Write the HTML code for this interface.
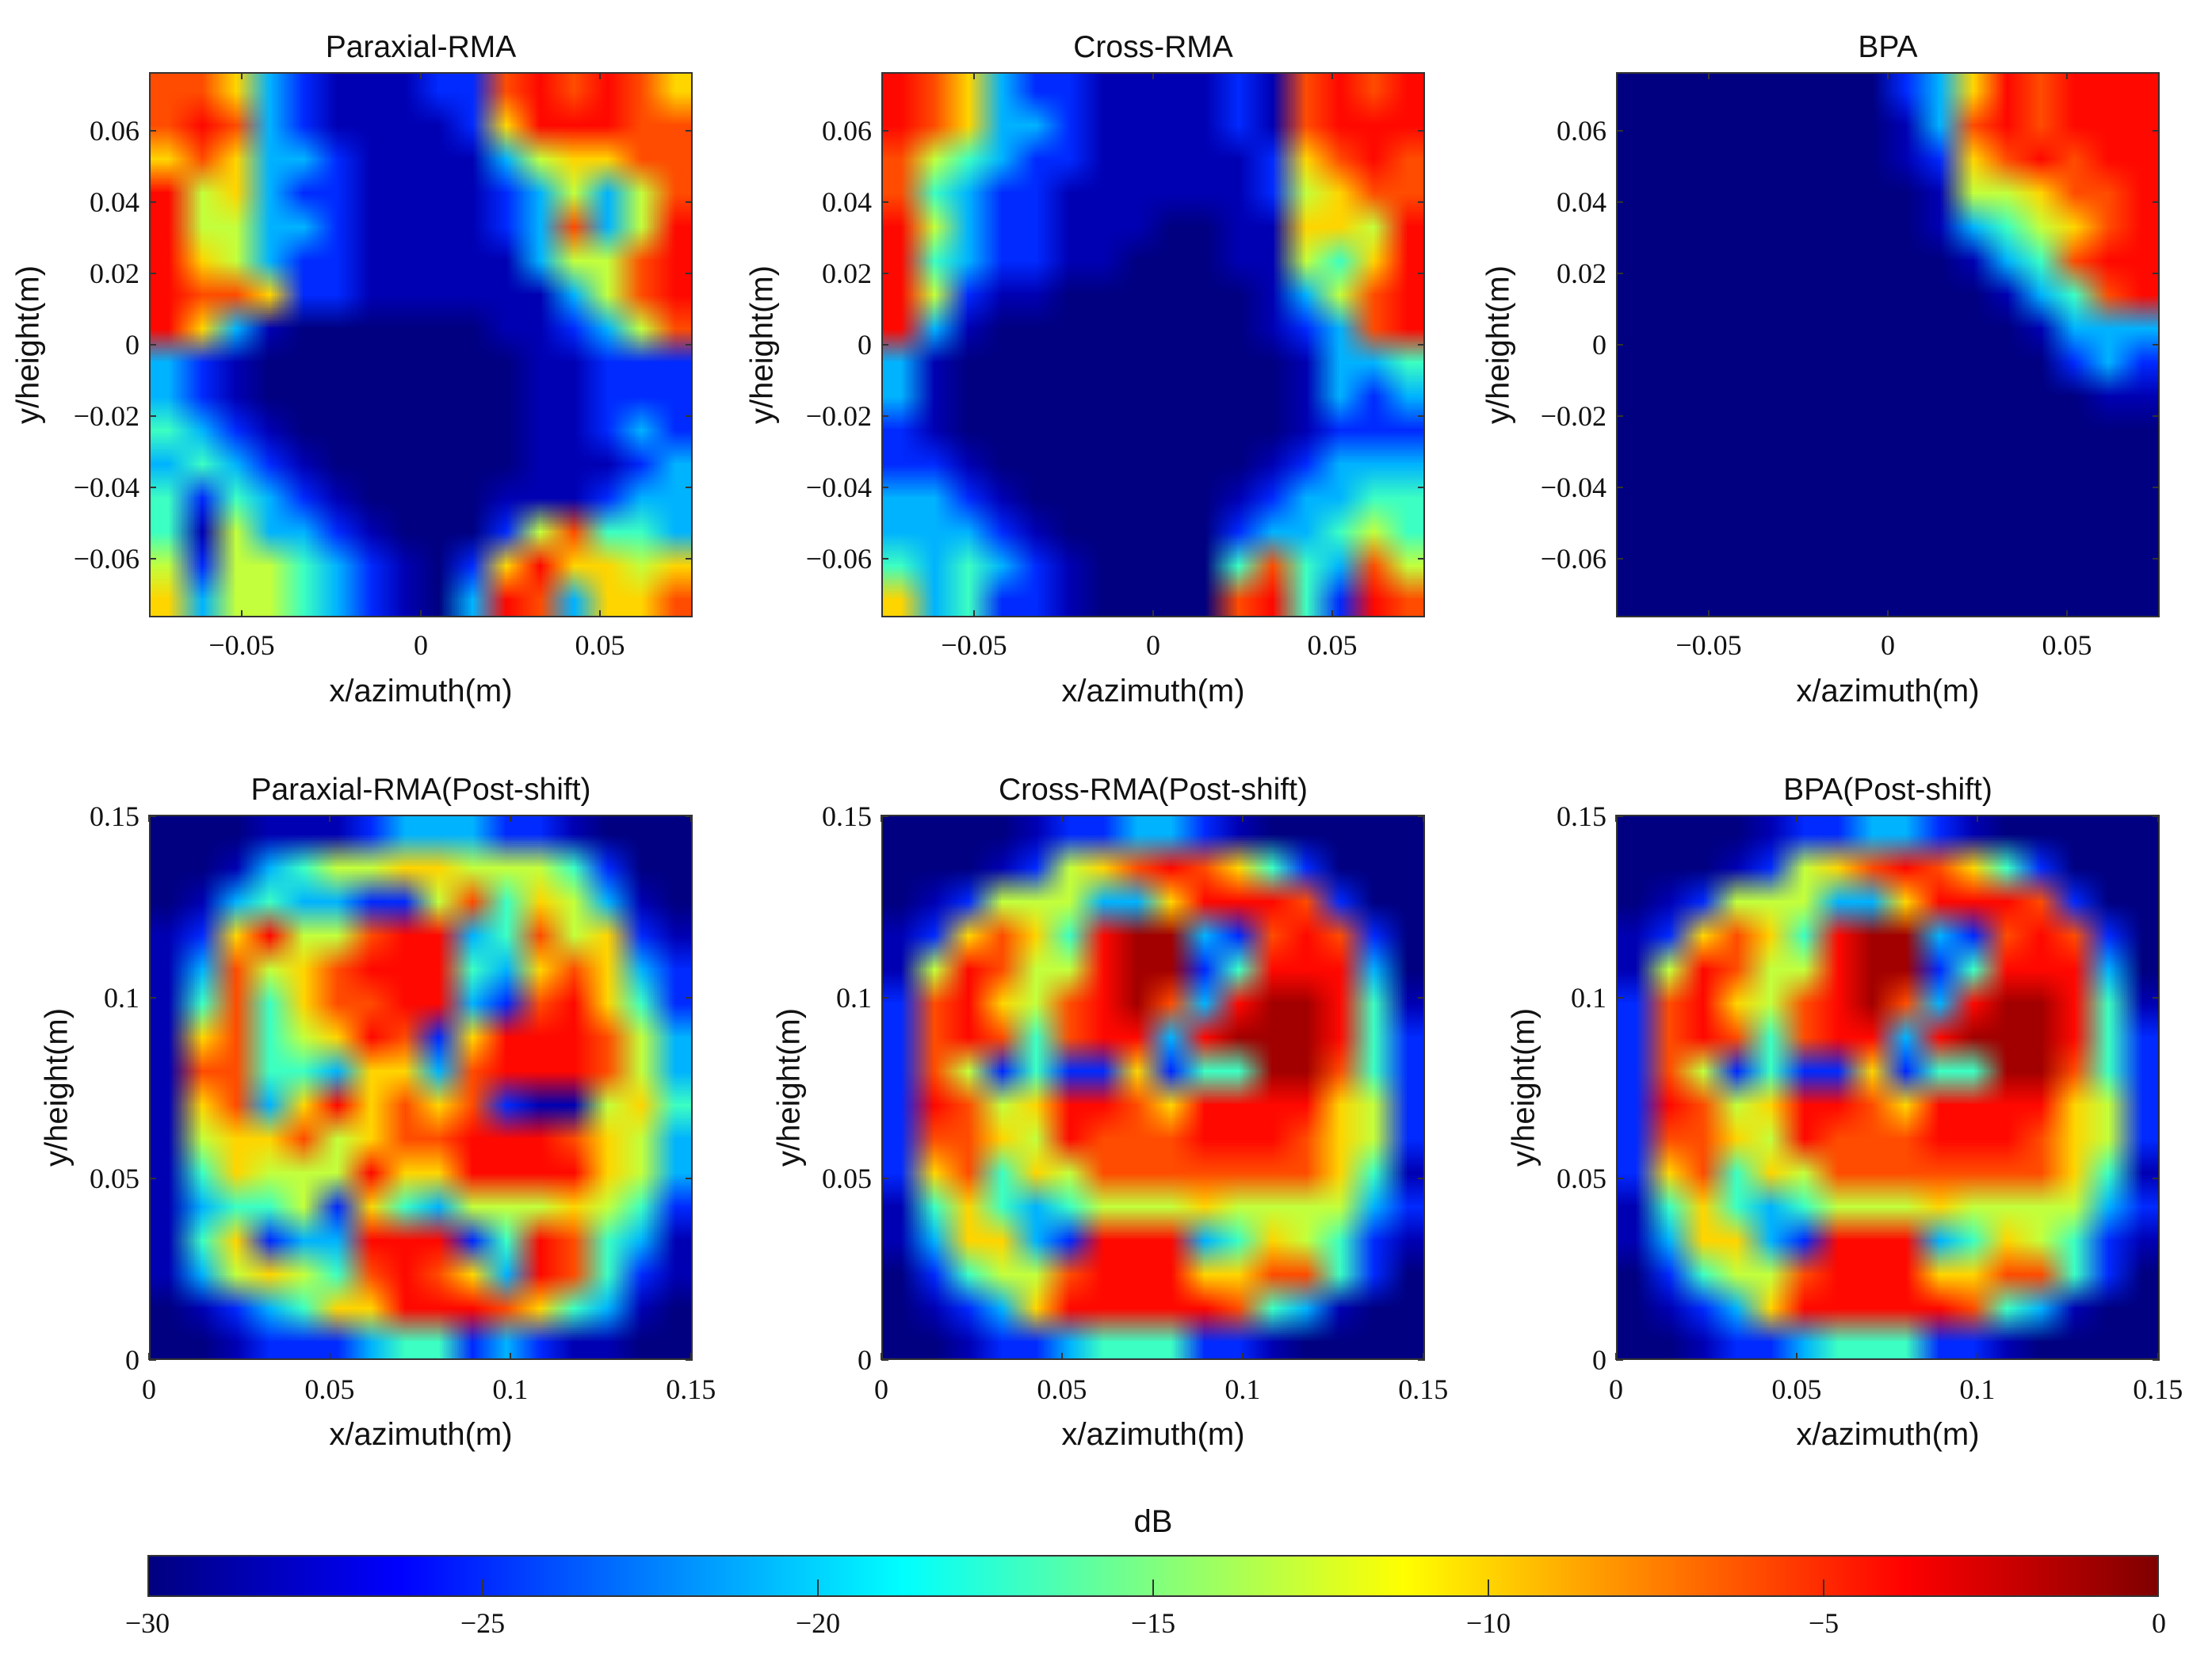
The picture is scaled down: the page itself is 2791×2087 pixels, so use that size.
<!DOCTYPE html>
<html><head><meta charset="utf-8">
<style>
body{margin:0;background:#fff;width:2791px;height:2087px;position:relative;overflow:hidden;font-family:"Liberation Sans",sans-serif;}
.ax{position:absolute;border:2px solid #333;box-sizing:border-box;}
.ax canvas{position:absolute;left:0;top:0;width:100%;height:100%;}
.t{position:absolute;white-space:nowrap;color:#111;}
.title{font-size:39px;transform:translateX(-50%);}
.xl{font-size:40px;transform:translateX(-50%);}
.yl{font-size:40px;transform:translate(-50%,-50%) rotate(-90deg);}
.tk{font-family:"Liberation Serif",serif;font-size:36px;}
.tx{transform:translateX(-50%);}
.ty{transform:translate(-100%,-50%);}
.tm{position:absolute;background:#333;}
</style></head><body>
<div id="root"></div>
<script>
// ---- data: level digits 0..9 per cell, rows top to bottom; levelDb maps digit -> dB ----
const levelDb = [-30,-28.5,-25,-21,-17,-13,-10,-6,-4,-1];
const paraxialRma = ["7763211122787876","7873211112688877","6763321111356677","8563221111235357","8553321111237358","8653221111135578","8776221111113578","8631000000112357","3210000000011222","3210000000011222","4321000000011232","3432100000011123","4243210000111233","4153321000257443","5255432102686656","6355432103873667"];
const crossRma = ["8763221111217878","8763321111217888","7543221111126787","7432211111125677","8532211100116658","8432211000115468","8521100000013578","8310000000012378","3100000000001334","3100000000001323","2100000000001222","2210000000012333","3321000000123344","3332100000233454","4343210000474375","6342210000784287"];
const bpa = ["0000000023687888","0000000013787888","0000000012678788","0000000001556778","0000000001345678","0000000000134788","0000000000013478","0000000000001333","0000000000000232","0000000000000011","0000000000000000","0000000000000000","0000000000000000","0000000000000000","0000000000000000","0000000000000000"];
const paraxialShift = ["0001112333221000","0013455665554200","0134332257465310","1268557883475621","1375678884367632","1474677883278642","1674568726888753","1774436637888753","1673686767211564","1566756778887653","1465558668888653","1344526435556542","1462338882487431","1356547876387421","0123466888764310","0012223442321100"];
const crossShift = ["0000122332100000","0001256787642000","0125553368887200","1267648993278720","1587558992488830","2786578973899841","2787478838999842","2752422624499742","2875688768888652","2776587778887652","2674657777777641","1464345556555532","1366328883465421","0245578886677420","0123688888743100","0012234442210000"];
const bpaShift = ["0000122332100000","0001256787642000","0125553368887200","1267648993278720","1587558992488830","2786578973899841","2787478838999842","2752422624499742","2875688768888652","2776587778887652","2674657777777641","1464345556555532","1366328883465421","0245578886677420","0123688888743100","0012234442210000"];
const titles = ["Paraxial-RMA","Cross-RMA","BPA","Paraxial-RMA(Post-shift)","Cross-RMA(Post-shift)","BPA(Post-shift)"];
const row1Xticks = [-0.05,0,0.05];
const row1Xlabels = ["\u22120.05","0","0.05"];
const row1Yticks = [0.06,0.04,0.02,0,-0.02,-0.04,-0.06];
const row1Ylabels = ["0.06","0.04","0.02","0","\u22120.02","\u22120.04","\u22120.06"];
const row2Ticks = [0,0.05,0.1,0.15];
const row2Labels = ["0","0.05","0.1","0.15"];
const cbTicks = [-30,-25,-20,-15,-10,-5,0];
const cbLabels = ["\u221230","\u221225","\u221220","\u221215","\u221210","\u22125","0"];
const dbMin = -30, dbMax = 0;

function jet(t){t=Math.max(0,Math.min(1,t));const c=v=>Math.round(255*Math.max(0,Math.min(1,v)));
 return [c(1.5-Math.abs(4*t-3)),c(1.5-Math.abs(4*t-2)),c(1.5-Math.abs(4*t-1))];}
const root=document.body;
function add(cls,txt,x,y,name){const d=document.createElement('div');d.className='t '+cls;d.textContent=txt;d.style.left=x+'px';d.style.top=y+'px';
 
 
 root.appendChild(d);return d;}
function tick(x,y,w,h,name){const d=document.createElement('div');d.className='tm';d.style.left=x+'px';d.style.top=y+'px';d.style.width=w+'px';d.style.height=h+'px';
 
 
 root.appendChild(d);}
const datasets=[paraxialRma,crossRma,bpa,paraxialShift,crossShift,bpaShift];
const colX=[188,1112,2039], rowY=[91,1028], W=686, H=688;
for(let p=0;p<6;p++){
 const col=p%3,row=Math.floor(p/3),L=colX[col],T=rowY[row];
 const ax=document.createElement('div');ax.className='ax';ax.style.left=L+'px';ax.style.top=T+'px';ax.style.width=W+'px';ax.style.height=H+'px';
 
 
 root.appendChild(ax);
 const data=datasets[p],n=data.length,m=data[0].length;
 const small=document.createElement('canvas');small.width=m;small.height=n;const sc=small.getContext('2d');const img=sc.createImageData(m,n);
 for(let r=0;r<n;r++)for(let c=0;c<m;c++){const db=levelDb[+data[r][c]];const rgb=jet((db-dbMin)/(dbMax-dbMin));const i=(r*m+c)*4;img.data[i]=rgb[0];img.data[i+1]=rgb[1];img.data[i+2]=rgb[2];img.data[i+3]=255;}
 sc.putImageData(img,0,0);
 const cv=document.createElement('canvas');cv.width=W;cv.height=H;const cx=cv.getContext('2d');cx.imageSmoothingEnabled=true;cx.drawImage(small,0,0,W,H);
 
 
 ax.appendChild(cv);
 add('title',titles[p],L+W/2,T-53,'panel-title');
 add('xl','x/azimuth(m)',L+W/2,T+H+(row==0?71:72),'x-axis-title');
 let xs,xl,ys,yl,x0,x1,y0,y1;
 if(row==0){xs=row1Xticks;xl=row1Xlabels;ys=row1Yticks;yl=row1Ylabels;x0=-0.0759;x1=0.0759;y0=-0.0765;y1=0.0765;}
 else{xs=row2Ticks;xl=row2Labels;ys=row2Ticks;yl=row2Labels;x0=0;x1=0.1505;y0=0;y1=0.1505;}
 const sx=v=>L+(v-x0)/(x1-x0)*W, sy=v=>T+H-(v-y0)/(y1-y0)*H;
 xs.forEach((v,i)=>{add('tk tx',xl[i],sx(v),T+H+(row==0?14:16),'x-tick-label');tick(sx(v)-1,T+H-9,2,9,'x-tick');tick(sx(v)-1,T,2,9,'x-tick');});
 ys.forEach((v,i)=>{add('tk ty',yl[i],L-12,sy(v),'y-tick-label');tick(L,sy(v)-1,9,2,'y-tick');tick(L+W-9,sy(v)-1,9,2,'y-tick');});
 const ylx=row==0?[36,962,1891][col]:[72,996,1923][col];
 add('yl','y/height(m)',ylx,T+H/2,'y-axis-title');
}
// colorbar
const cbL=186,cbT=1962,cbW=2538,cbH=53;
const cb=document.createElement('div');cb.className='ax';cb.style.left=cbL+'px';cb.style.top=cbT+'px';cb.style.width=cbW+'px';cb.style.height=cbH+'px';


root.appendChild(cb);
const cbc=document.createElement('canvas');cbc.width=cbW;cbc.height=1;const cbx=cbc.getContext('2d');
for(let i=0;i<cbW;i++){const rgb=jet(i/(cbW-1));cbx.fillStyle='rgb('+rgb.join(',')+')';cbx.fillRect(i,0,1,1);}


cb.appendChild(cbc);
const cbs=v=>cbL+(v-dbMin)/(dbMax-dbMin)*cbW;
cbTicks.forEach((v,i)=>{add('tk tx',cbLabels[i],cbs(v),2027,'colorbar-tick-label');if(i>0&&i<cbTicks.length-1)tick(cbs(v)-1,cbT+cbH-22,2,22,'colorbar-tick');});
add('xl','dB',1455,1898,'colorbar-title');
</script>
</body></html>
